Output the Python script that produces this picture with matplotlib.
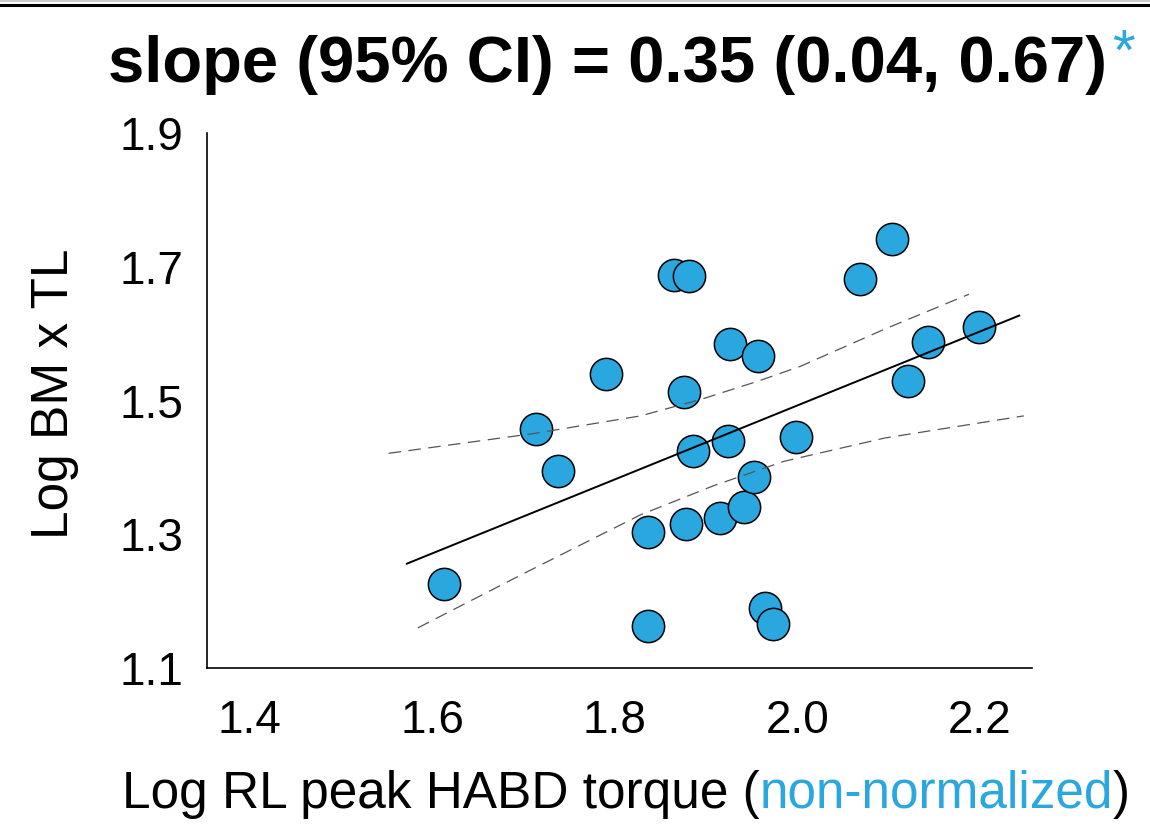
import matplotlib
matplotlib.use("Agg")
import matplotlib.pyplot as plt
from matplotlib.lines import Line2D

# log peak torque vs log body-mass x trunk-length
torque = [1.613, 1.714, 1.738, 1.790, 1.836, 1.836, 1.865, 1.881, 1.876, 1.878,
          1.886, 1.915, 1.924, 1.926, 1.941, 1.952, 1.957, 1.964, 1.973, 1.998,
          2.068, 2.104, 2.121, 2.143, 2.199]
bm_tl = [1.226, 1.458, 1.395, 1.539, 1.304, 1.163, 1.688, 1.686, 1.512, 1.316,
         1.424, 1.325, 1.439, 1.584, 1.341, 1.385, 1.566, 1.190, 1.166, 1.445,
         1.682, 1.742, 1.529, 1.587, 1.610]

# regression line and 95% CI band
fit_x = [1.572, 2.243]
fit_y = [1.256, 1.627]
upper_x = [1.552, 1.713, 1.828, 1.895, 1.957, 2.003, 2.096, 2.188]
upper_y = [1.421, 1.451, 1.477, 1.502, 1.529, 1.551, 1.607, 1.659]
lower_x = [1.584, 1.704, 1.828, 1.907, 1.985, 2.096, 2.248]
lower_y = [1.160, 1.244, 1.329, 1.372, 1.409, 1.444, 1.477]

xticks = [1.4, 1.6, 1.8, 2.0, 2.2]
yticks = [1.1, 1.3, 1.5, 1.7, 1.9]

title = "slope (95% CI) = 0.35 (0.04, 0.67)"
blue = "#2AA7DF"

plt.rcParams["font.family"] = ["Liberation Sans", "DejaVu Sans"]

W, H = 1150, 824
fig = plt.figure(figsize=(W / 100, H / 100), dpi=100)
ax = fig.add_axes([207 / W, 1 - 668 / H, (1032 - 207) / W, (668 - 133) / H])

ax.scatter(torque, bm_tl, s=540, color=blue, edgecolor="black", linewidth=1.1, zorder=2)
ax.plot(fit_x, fit_y, color="black", lw=1.4, zorder=3)
ax.plot(upper_x, upper_y, color="#555555", lw=0.9, ls=(0, (10, 6)), zorder=3)
ax.plot(lower_x, lower_y, color="#555555", lw=0.9, ls=(0, (10, 6)), zorder=3)

ax.set_xlim(1.353, 2.257)
ax.set_ylim(1.1, 1.9)
ax.set_xticks(xticks)
ax.set_xticklabels([f"{v:.1f}" for v in xticks])
ax.set_yticks(yticks)
ax.set_yticklabels([f"{v:.1f}" for v in yticks])
ax.tick_params(axis="both", length=0, labelsize=33)
ax.tick_params(axis="x", pad=22)
ax.tick_params(axis="y", pad=17)
for side in ("top", "right"):
    ax.spines[side].set_visible(False)
for side in ("left", "bottom"):
    ax.spines[side].set_linewidth(1.2)

# rule along the top edge
fig.add_artist(Line2D([0, 1], [1 - 1 / H] * 2, color="#cccccc", lw=1.5))
fig.add_artist(Line2D([0, 1], [1 - 4.5 / H] * 2, color="black", lw=2.2))

renderer = fig.canvas.get_renderer()

# title with blue significance marker
t = fig.text(108 / W, 1 - 82 / H, title, fontsize=47, fontweight="bold",
             ha="left", va="baseline")
bb = t.get_window_extent(renderer)
fig.text((bb.x1 + 5) / W, 1 - 70 / H, "*", fontsize=42, color=blue,
         ha="left", va="baseline")

# x label in three colored pieces
x0 = 122
base = 1 - 808 / H
for part, col in [("Log RL peak HABD torque (", "black"),
                  ("non-normalized", blue),
                  (")", "black")]:
    p = fig.text(x0 / W, base, part, fontsize=37, color=col, ha="left", va="baseline")
    x0 = p.get_window_extent(renderer).x1

fig.text(55 / W, 1 - 394 / H, "Log BM x TL", fontsize=37, rotation=90,
         ha="center", va="center")

fig.savefig("out.png", dpi=100)
